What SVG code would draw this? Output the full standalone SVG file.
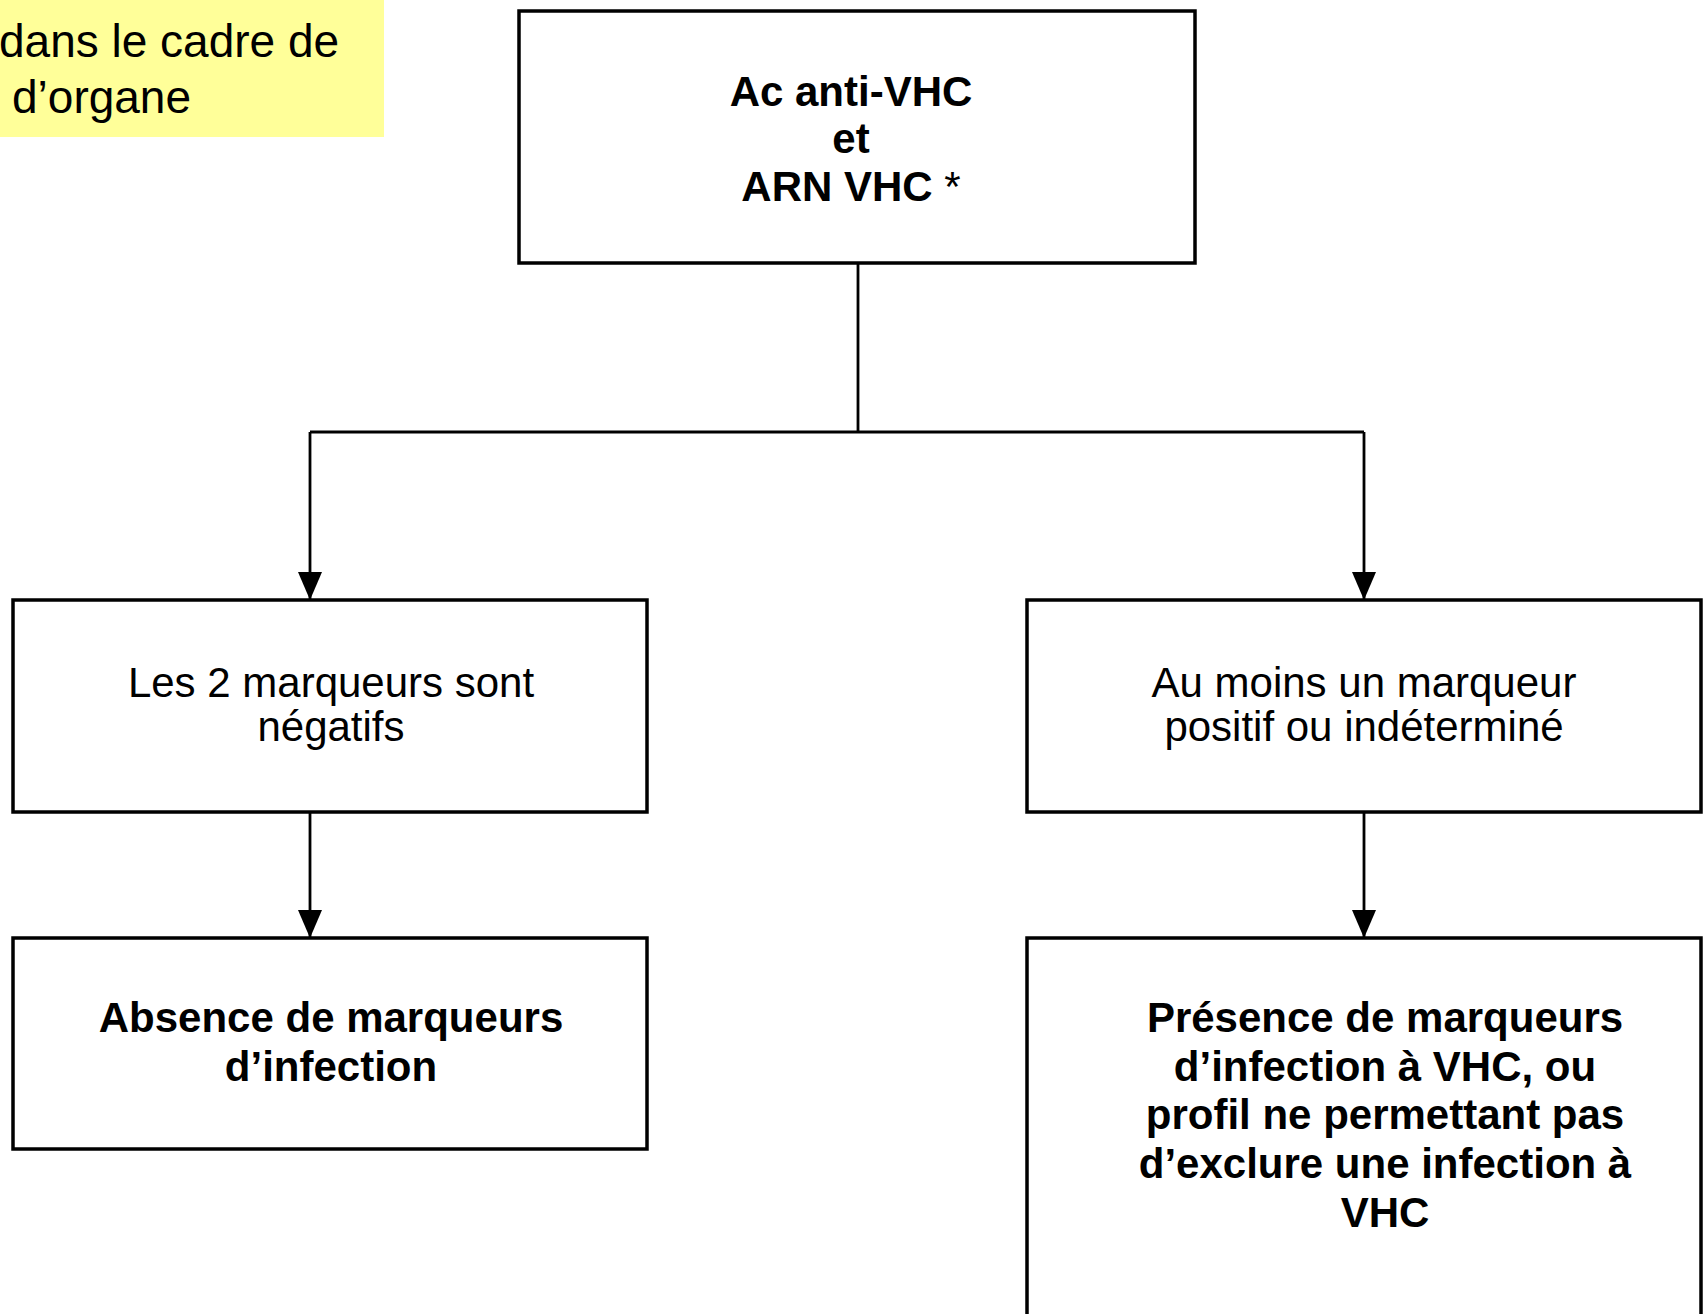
<svg xmlns="http://www.w3.org/2000/svg" width="1707" height="1314" viewBox="0 0 1707 1314">
<style>
.box{fill:#fff;stroke:#000;stroke-width:3.5}
.t{font-family:"Liberation Sans",Arial,sans-serif;font-size:42px;fill:#000;text-anchor:middle}
.b{font-weight:bold}
.note{font-family:"Liberation Sans",Arial,sans-serif;font-size:46px;fill:#000}
.c{fill:none;stroke:#000;stroke-width:2.8}
</style>
<defs>
<marker id="ah" markerUnits="userSpaceOnUse" markerWidth="28" markerHeight="24" refX="28" refY="12" orient="auto" viewBox="0 0 28 24">
<path d="M0,0 L28,12 L0,24 Z" fill="#000"/>
</marker>
</defs>
<rect width="1707" height="1314" fill="#fff"/>
<g id="note">
<rect x="0" y="0" width="384" height="137" fill="#ffff99"/>
<text class="note" x="-1" y="57">dans le cadre de</text>
<text class="note" x="12" y="113">d’organe</text>
</g>
<g id="connectors">
<path class="c" d="M858,263 V432" stroke-width="2.2"/>
<path class="c" d="M310,432 H1364"/>
<path class="c" d="M310,432 V600" marker-end="url(#ah)"/>
<path class="c" d="M1364,432 V600" marker-end="url(#ah)"/>
<path class="c" d="M310,812 V938" marker-end="url(#ah)"/>
<path class="c" d="M1364,812 V938" marker-end="url(#ah)"/>
</g>
<g id="n-top">
<rect class="box" x="519" y="11" width="676" height="252"/>
<text class="t b" x="851" y="106">Ac anti-VHC</text>
<text class="t b" x="851" y="153">et</text>
<text class="t b" x="851" y="201">ARN VHC <tspan font-weight="normal">*</tspan></text>
</g>
<g id="n-neg">
<rect class="box" x="13" y="600" width="634" height="212"/>
<text class="t" x="331" y="697">Les 2 marqueurs sont</text>
<text class="t" x="331" y="741">négatifs</text>
</g>
<g id="n-pos">
<rect class="box" x="1027" y="600" width="674" height="212"/>
<text class="t" x="1364" y="697">Au moins un marqueur</text>
<text class="t" x="1364" y="741">positif ou indéterminé</text>
</g>
<g id="n-absence">
<rect class="box" x="13" y="938" width="634" height="211"/>
<text class="t b" x="331" y="1032">Absence de marqueurs</text>
<text class="t b" x="331" y="1081">d’infection</text>
</g>
<g id="n-presence">
<rect class="box" x="1027" y="938" width="674" height="390"/>
<text class="t b" x="1385" y="1032">Présence de marqueurs</text>
<text class="t b" x="1385" y="1081">d’infection à VHC, ou</text>
<text class="t b" x="1385" y="1129">profil ne permettant pas</text>
<text class="t b" x="1385" y="1178">d’exclure une infection à</text>
<text class="t b" x="1385" y="1227">VHC</text>
</g>
</svg>
